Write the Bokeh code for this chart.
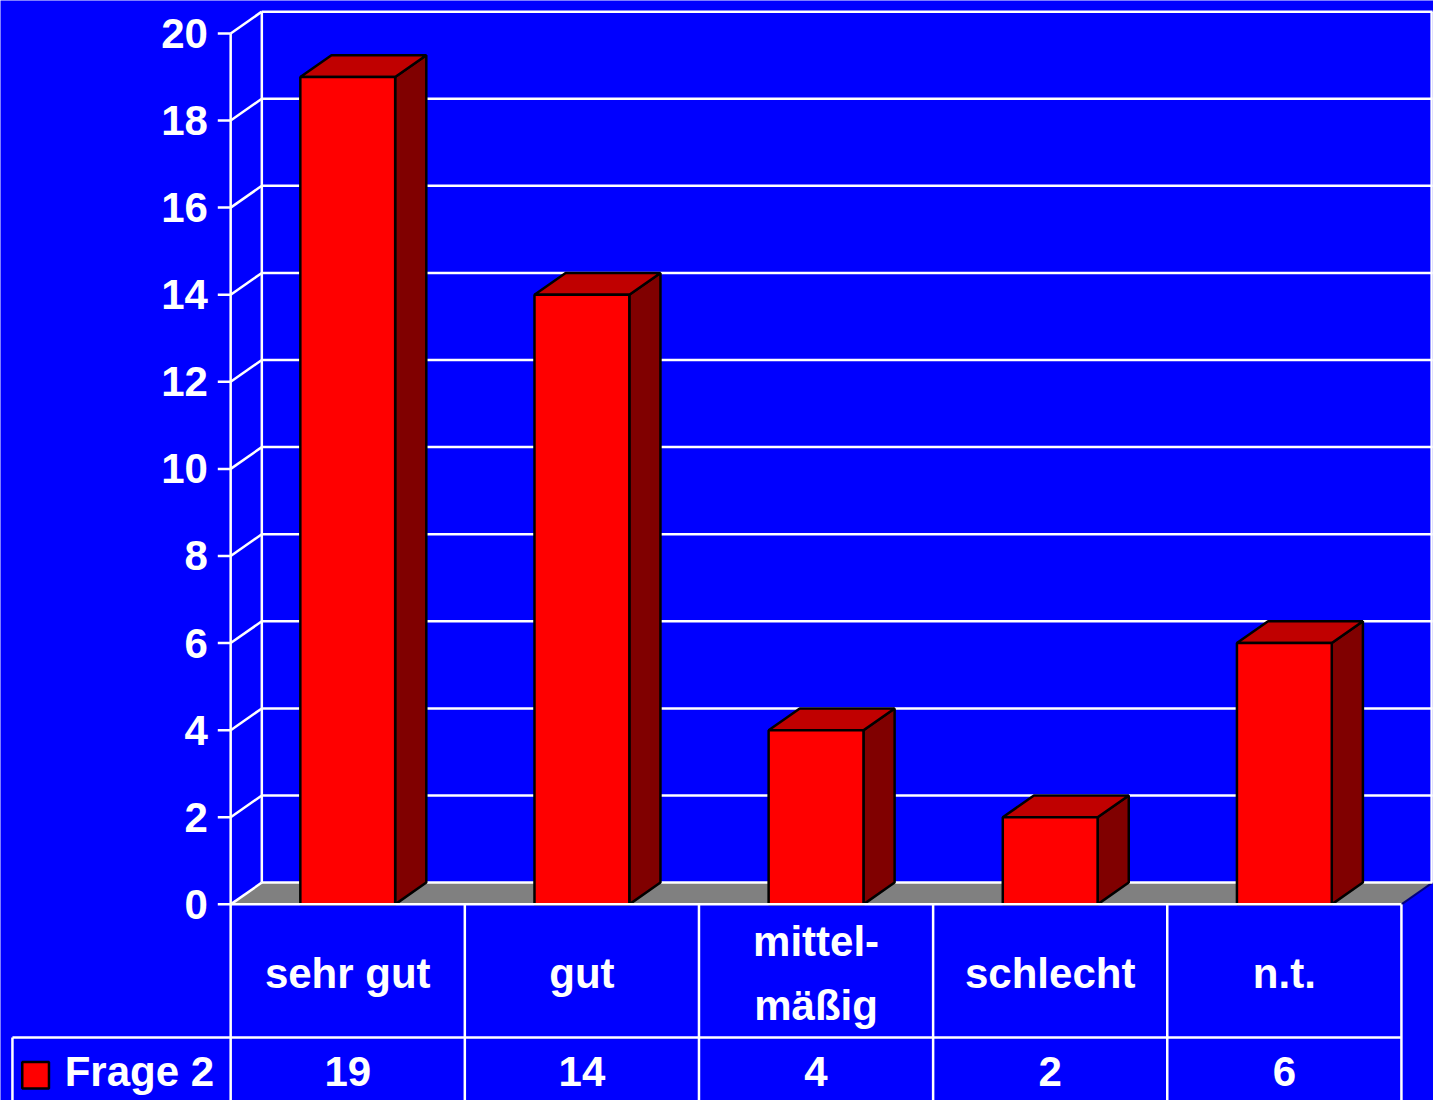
from bokeh.plotting import figure
from bokeh.models import Range1d
from bokeh.core.properties import value
from bokeh.embed import file_html
from bokeh.resources import INLINE

# ---- data ----
categories = ["sehr gut", "gut", "mittel-\nmäßig", "schlecht", "n.t."]
values = [19, 14, 4, 2, 6]
series_name = "Frage 2"
y_ticks = [0, 2, 4, 6, 8, 10, 12, 14, 16, 18, 20]
y_tick_labels = [str(t) for t in y_ticks]

# ---- layout / style constants ----
DX, DY = 0.133, 0.5          # 3D depth offset (category units, value units)
BAR_W = 0.405
Y_MAX = 20
ROW_Y = -3.056               # table row divider
LEG_L = -0.932               # left border of legend cell
BG = "#0000FF"
WHITE = "white"
FONT = value("Liberation Sans")
FS = "42px"
n = len(categories)

p = figure(width=1433, height=1100,
           x_range=Range1d(-0.983, 5.137), y_range=Range1d(-4.504, 20.756),
           output_backend="svg", toolbar_location=None, min_border=0,
           x_axis_location=None, y_axis_location=None)
p.grid.visible = False
p.background_fill_color = BG
p.border_fill_color = BG
p.outline_line_color = None

# floor
p.patch([0, n, n + DX, DX], [0, 0, DY, DY], fill_color="#808080", line_color=None)
p.segment(x0=[n], y0=[0], x1=[n + DX], y1=[DY], line_color="#000080", line_width=2)

# back wall gridlines
p.segment(x0=[DX] * len(y_ticks), y0=[t + DY for t in y_ticks],
          x1=[n + DX] * len(y_ticks), y1=[t + DY for t in y_ticks],
          line_color=WHITE, line_width=2.5)
# back wall verticals
p.segment(x0=[DX, n + DX - 0.004], y0=[DY, DY], x1=[DX, n + DX - 0.004], y1=[Y_MAX + DY, Y_MAX + DY],
          line_color=WHITE, line_width=2.5)
# side wall diagonals
p.segment(x0=[0] * len(y_ticks), y0=y_ticks, x1=[DX] * len(y_ticks),
          y1=[t + DY for t in y_ticks], line_color=WHITE, line_width=2.5)
# y axis and ticks
p.segment(x0=[0], y0=[0], x1=[0], y1=[Y_MAX], line_color=WHITE, line_width=2.5)
p.segment(x0=[-0.055] * len(y_ticks), y0=y_ticks, x1=[0] * len(y_ticks), y1=y_ticks,
          line_color=WHITE, line_width=2.5)
p.text(x=[-0.097] * len(y_ticks), y=y_ticks, text=y_tick_labels,
       text_font=FONT, text_font_style="bold", text_font_size=FS,
       text_color=WHITE, text_align="right", text_baseline="middle")

# bars
centers = [i + 0.5 for i in range(n)]
lefts = [c - BAR_W / 2 for c in centers]
rights = [c + BAR_W / 2 for c in centers]
side_xs = [[r, r + DX, r + DX, r] for r in rights]
side_ys = [[0, DY, v + DY, v] for v in values]
top_xs = [[l, r, r + DX, l + DX] for l, r in zip(lefts, rights)]
top_ys = [[v, v, v + DY, v + DY] for v in values]
p.patches(side_xs, side_ys, fill_color="#800000", line_color="black", line_width=2.5)
p.patches(top_xs, top_ys, fill_color="#C00000", line_color="black", line_width=2.5)
p.quad(left=lefts, right=rights, bottom=[0] * n, top=values,
       fill_color="#FF0000", line_color="black", line_width=2.5)

# data table
p.segment(x0=[0, LEG_L], y0=[0, ROW_Y], x1=[n, n], y1=[0, ROW_Y], line_color=WHITE, line_width=2.5)
p.segment(x0=list(range(n + 1)), y0=[0] * (n + 1), x1=list(range(n + 1)), y1=[-4.7] * (n + 1),
          line_color=WHITE, line_width=2.5)
p.segment(x0=[LEG_L], y0=[ROW_Y], x1=[LEG_L], y1=[-4.7], line_color=WHITE, line_width=2.5)
p.text(x=centers, y=[-1.584] * n, text=categories,
       text_font=FONT, text_font_style="bold", text_font_size=FS, text_line_height=1.35,
       text_color=WHITE, text_align="center", text_baseline="middle")
p.text(x=centers, y=[-3.84] * n, text=[str(v) for v in values],
       text_font=FONT, text_font_style="bold", text_font_size=FS,
       text_color=WHITE, text_align="center", text_baseline="middle")
# legend key
p.quad(left=[-0.890], right=[-0.776], top=[-3.62], bottom=[-4.23],
       fill_color="#FF0000", line_color="black", line_width=2.5)
p.text(x=[-0.709], y=[-3.84], text=[series_name],
       text_font=FONT, text_font_style="bold", text_font_size=FS,
       text_color=WHITE, text_align="left", text_baseline="middle")

open("out.html", "w").write(file_html(p, INLINE))
